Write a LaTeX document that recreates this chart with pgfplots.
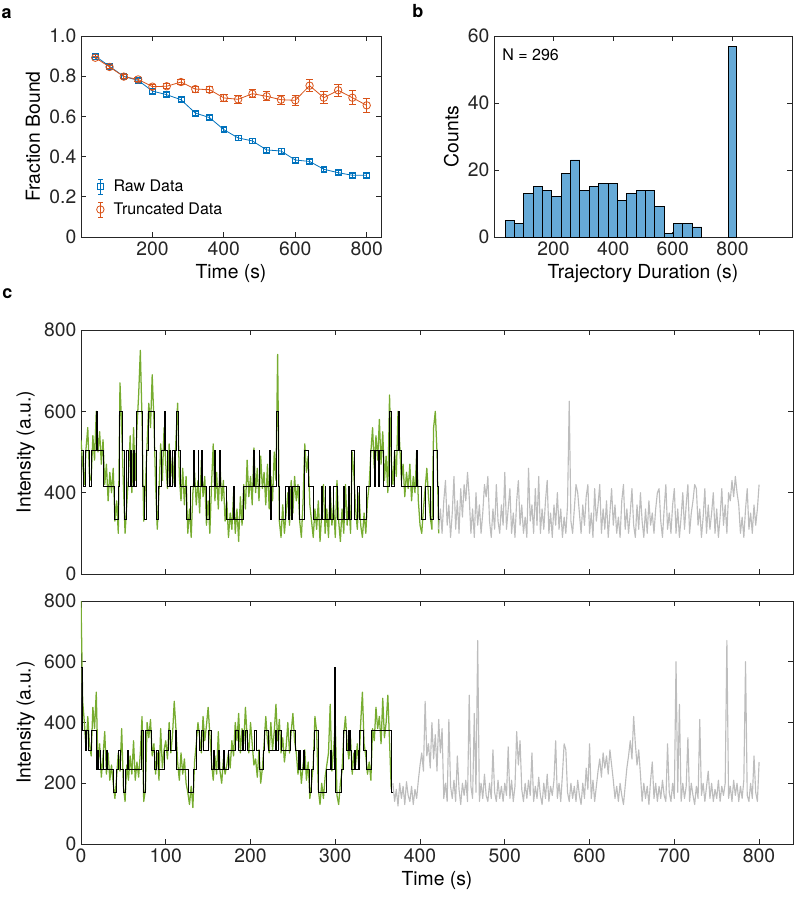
\documentclass[border=0pt]{standalone}
\usepackage{fontspec}
\setmainfont{TeX Gyre Heros}
\setsansfont{TeX Gyre Heros}
\usepackage{pgfplots}
\usepackage{pgfplotstable}
\pgfplotsset{compat=1.18}

\definecolor{mblue}{rgb}{0,0.447,0.741}
\definecolor{morange}{rgb}{0.85,0.325,0.098}
\definecolor{mgreen}{rgb}{0.466,0.674,0.188}
\definecolor{mgray}{rgb}{0.74,0.74,0.74}
\definecolor{hfill}{RGB}{102,170,215}
\definecolor{axc}{rgb}{0.15,0.15,0.15}

\pgfplotstableread[row sep=\\,header=false]{530\\ 470\\ 420\\ 510\\ 560\\ 440\\ 430\\ 540\\ 480\\ 600\\
500\\ 550\\ 470\\ 530\\ 420\\ 470\\ 380\\ 450\\ 400\\ 460\\
330\\ 380\\ 300\\ 670\\ 560\\ 420\\ 300\\ 370\\ 440\\ 540\\
400\\ 560\\ 430\\ 560\\ 640\\ 750\\ 580\\ 330\\ 420\\ 520\\
620\\ 560\\ 690\\ 580\\ 420\\ 310\\ 400\\ 520\\ 430\\ 560\\
470\\ 410\\ 520\\ 440\\ 490\\ 420\\ 530\\ 620\\ 440\\ 380\\
460\\ 370\\ 440\\ 300\\ 360\\ 290\\ 400\\ 450\\ 370\\ 430\\
350\\ 480\\ 390\\ 440\\ 320\\ 380\\ 300\\ 420\\ 520\\ 380\\
450\\ 360\\ 470\\ 380\\ 430\\ 330\\ 380\\ 290\\ 350\\ 310\\
400\\ 300\\ 360\\ 280\\ 390\\ 320\\ 420\\ 360\\ 480\\ 390\\
440\\ 370\\ 510\\ 400\\ 460\\ 380\\ 490\\ 410\\ 450\\ 370\\
470\\ 360\\ 440\\ 380\\ 500\\ 430\\ 740\\ 330\\ 290\\ 370\\
300\\ 350\\ 400\\ 320\\ 430\\ 350\\ 440\\ 380\\ 420\\ 330\\
290\\ 380\\ 520\\ 450\\ 490\\ 370\\ 330\\ 290\\ 360\\ 310\\
380\\ 280\\ 350\\ 420\\ 300\\ 360\\ 290\\ 410\\ 320\\ 370\\
290\\ 430\\ 330\\ 280\\ 360\\ 300\\ 420\\ 320\\ 380\\ 300\\
500\\ 440\\ 360\\ 310\\ 400\\ 320\\ 290\\ 350\\ 300\\ 380\\
420\\ 500\\ 560\\ 460\\ 540\\ 480\\ 580\\ 470\\ 550\\ 430\\
490\\ 400\\ 640\\ 480\\ 420\\ 500\\ 440\\ 600\\ 520\\ 430\\
470\\ 390\\ 450\\ 410\\ 470\\ 380\\ 440\\ 400\\ 500\\ 380\\
320\\ 300\\ 360\\ 410\\ 460\\ 390\\ 340\\ 310\\ 560\\ 600\\
500\\ 300\\}\topgreen

\pgfplotstableread[row sep=\\,header=false]{310\\ 360\\ 300\\ 380\\ 430\\ 320\\ 370\\ 290\\ 350\\ 440\\
310\\ 380\\ 300\\ 410\\ 340\\ 420\\ 380\\ 450\\ 390\\ 300\\
360\\ 290\\ 400\\ 320\\ 370\\ 300\\ 350\\ 420\\ 390\\ 440\\
330\\ 290\\ 360\\ 310\\ 420\\ 330\\ 300\\ 370\\ 320\\ 450\\
310\\ 360\\ 410\\ 300\\ 350\\ 290\\ 380\\ 430\\ 320\\ 370\\
300\\ 340\\ 290\\ 460\\ 330\\ 370\\ 300\\ 410\\ 320\\ 440\\
300\\ 360\\ 310\\ 380\\ 430\\ 300\\ 350\\ 290\\ 370\\ 320\\
400\\ 310\\ 360\\ 290\\ 340\\ 300\\ 370\\ 625\\ 330\\ 300\\
360\\ 420\\ 400\\ 350\\ 300\\ 370\\ 320\\ 390\\ 420\\ 300\\
350\\ 290\\ 410\\ 330\\ 370\\ 420\\ 300\\ 360\\ 310\\ 380\\
290\\ 350\\ 410\\ 320\\ 370\\ 300\\ 340\\ 290\\ 380\\ 420\\
310\\ 360\\ 300\\ 350\\ 410\\ 320\\ 290\\ 370\\ 310\\ 400\\
330\\ 290\\ 360\\ 300\\ 380\\ 320\\ 350\\ 300\\ 360\\ 400\\
410\\ 330\\ 290\\ 360\\ 420\\ 310\\ 350\\ 300\\ 370\\ 410\\
300\\ 360\\ 290\\ 340\\ 400\\ 310\\ 370\\ 420\\ 300\\ 350\\
380\\ 420\\ 410\\ 320\\ 360\\ 290\\ 340\\ 410\\ 300\\ 370\\
310\\ 350\\ 400\\ 300\\ 360\\ 290\\ 340\\ 410\\ 320\\ 370\\
300\\ 400\\ 380\\ 430\\ 390\\ 440\\ 400\\ 370\\ 300\\ 340\\
290\\ 360\\ 410\\ 310\\ 350\\ 300\\ 370\\ 320\\ 360\\ 420\\}\topgray

\pgfplotstableread[row sep=\\,header=false]{800\\ 470\\ 400\\ 310\\ 420\\ 330\\ 290\\ 450\\ 380\\ 500\\
260\\ 330\\ 220\\ 290\\ 370\\ 230\\ 300\\ 210\\ 260\\ 200\\
150\\ 220\\ 300\\ 240\\ 380\\ 190\\ 140\\ 260\\ 210\\ 290\\
230\\ 340\\ 210\\ 270\\ 220\\ 300\\ 420\\ 140\\ 180\\ 400\\
350\\ 410\\ 290\\ 330\\ 230\\ 300\\ 210\\ 380\\ 250\\ 310\\
340\\ 280\\ 400\\ 300\\ 360\\ 470\\ 380\\ 270\\ 210\\ 300\\
230\\ 280\\ 200\\ 170\\ 130\\ 190\\ 120\\ 270\\ 330\\ 400\\
350\\ 300\\ 420\\ 340\\ 390\\ 450\\ 360\\ 270\\ 210\\ 290\\
230\\ 370\\ 240\\ 200\\ 280\\ 230\\ 260\\ 300\\ 250\\ 340\\
290\\ 400\\ 340\\ 430\\ 300\\ 380\\ 330\\ 450\\ 350\\ 300\\
400\\ 330\\ 260\\ 280\\ 220\\ 310\\ 200\\ 250\\ 330\\ 420\\
340\\ 300\\ 400\\ 310\\ 370\\ 460\\ 340\\ 410\\ 300\\ 350\\
270\\ 320\\ 400\\ 300\\ 370\\ 430\\ 340\\ 300\\ 230\\ 280\\
200\\ 260\\ 310\\ 210\\ 270\\ 150\\ 200\\ 260\\ 420\\ 370\\
180\\ 130\\ 200\\ 150\\ 220\\ 260\\ 300\\ 460\\ 240\\ 310\\
400\\ 160\\ 130\\ 200\\ 240\\ 360\\ 420\\ 330\\ 280\\ 350\\
230\\ 300\\ 260\\ 330\\ 250\\ 400\\ 500\\ 330\\ 290\\ 230\\
270\\ 210\\ 380\\ 340\\ 450\\ 380\\ 420\\ 330\\ 480\\ 350\\
400\\ 490\\ 340\\ 180\\}\botgreen

\pgfplotstableread[row sep=\\,header=false]{200\\ 140\\ 180\\ 125\\ 200\\ 150\\ 190\\ 130\\ 205\\ 160\\
140\\ 190\\ 130\\ 180\\ 150\\ 210\\ 260\\ 300\\ 240\\ 470\\
290\\ 330\\ 250\\ 400\\ 280\\ 360\\ 240\\ 410\\ 300\\ 380\\
150\\ 200\\ 140\\ 410\\ 190\\ 150\\ 210\\ 140\\ 290\\ 180\\
130\\ 200\\ 160\\ 210\\ 140\\ 490\\ 190\\ 150\\ 430\\ 170\\
670\\ 140\\ 200\\ 150\\ 230\\ 160\\ 140\\ 200\\ 150\\ 310\\
170\\ 140\\ 210\\ 150\\ 190\\ 140\\ 200\\ 160\\ 320\\ 150\\
210\\ 140\\ 190\\ 370\\ 260\\ 340\\ 180\\ 140\\ 200\\ 150\\
210\\ 160\\ 300\\ 140\\ 190\\ 150\\ 220\\ 160\\ 130\\ 200\\
150\\ 230\\ 140\\ 190\\ 160\\ 210\\ 340\\ 150\\ 200\\ 140\\
230\\ 330\\ 310\\ 170\\ 140\\ 200\\ 150\\ 190\\ 140\\ 210\\
160\\ 130\\ 200\\ 150\\ 250\\ 180\\ 330\\ 150\\ 210\\ 140\\
190\\ 240\\ 280\\ 220\\ 300\\ 250\\ 290\\ 230\\ 310\\ 260\\
210\\ 150\\ 190\\ 140\\ 200\\ 160\\ 130\\ 190\\ 250\\ 290\\
340\\ 280\\ 420\\ 330\\ 260\\ 310\\ 230\\ 140\\ 200\\ 150\\
190\\ 130\\ 210\\ 270\\ 150\\ 200\\ 140\\ 190\\ 150\\ 210\\
160\\ 140\\ 330\\ 170\\ 140\\ 200\\ 150\\ 600\\ 170\\ 460\\
140\\ 200\\ 150\\ 190\\ 350\\ 140\\ 200\\ 160\\ 130\\ 190\\
150\\ 410\\ 160\\ 200\\ 140\\ 190\\ 240\\ 150\\ 200\\ 140\\
180\\ 150\\ 210\\ 140\\ 190\\ 160\\ 200\\ 670\\ 150\\ 190\\
140\\ 210\\ 160\\ 200\\ 140\\ 190\\ 150\\ 210\\ 600\\ 160\\
140\\ 200\\ 150\\ 290\\ 170\\ 140\\ 270\\}\botgray

\pgfplotsset{mat/.style={
  scale only axis,
  axis line style={axc, line width=0.6pt},
  every tick/.style={axc, line width=0.6pt},
  major tick length=4pt,
  tick align=inside,
  ticklabel style={font=\fontsize{14.5}{17}\selectfont, text=axc},
  label style={font=\fontsize{14.5}{17}\selectfont},
  /pgf/number format/assume math mode=true,
  /pgf/number format/1000 sep={},
}}

\begin{document}
\begin{tikzpicture}
\path[use as bounding box] (0,0) rectangle (595.5pt,-675.75pt);

\node[anchor=base west, inner sep=0, font=\fontsize{13.5}{16}\selectfont\bfseries] at (1.1pt,-13.7pt) {a};
\node[anchor=base west, inner sep=0, font=\fontsize{13.5}{16}\selectfont\bfseries] at (309pt,-13.1pt) {b};
\node[anchor=base west, inner sep=0, font=\fontsize{13.5}{16}\selectfont\bfseries] at (1.5pt,-223.9pt) {c};

% ---------- panel a ----------
\begin{axis}[mat, at={(60.75pt,-177.75pt)}, anchor=south west,
  width=225pt, height=150.75pt,
  xmin=0, xmax=840, ymin=0, ymax=1,
  xtick={200,400,600,800},
  ytick={0,0.2,0.4,0.6,0.8,1}, yticklabels={0,0.2,0.4,0.6,0.8,1.0},
  xlabel={Time (s)}, ylabel={Fraction Bound},
  legend style={at={(0.03,0.075)}, anchor=south west, draw=none, fill=none,
    font=\fontsize{12}{14}\selectfont, row sep=3pt},
  legend cell align=left,
  legend image code/.code={
    \path (0cm,0cm) (0.42cm,0cm);
    \draw[#1,mark=none] (0.15cm,-0.2cm)--(0.15cm,0.2cm) (0.09cm,-0.2cm)--(0.21cm,-0.2cm) (0.09cm,0.2cm)--(0.21cm,0.2cm);
    \draw[#1,only marks] plot coordinates {(0.15cm,0cm)};
  },
]
\addplot[mblue, line width=0.6pt, mark=square, mark size=2.2pt, mark options={solid},
  error bars/.cd, y dir=both, y explicit,
  error bar style={line width=0.6pt, mblue},
  error mark options={rotate=90, mark size=2.5pt, line width=0.6pt, mblue}]
coordinates {
(40,0.900) +- (0,0.008) (80,0.849) +- (0,0.009) (120,0.799) +- (0,0.009)
(160,0.779) +- (0,0.010) (200,0.726) +- (0,0.010) (240,0.708) +- (0,0.010)
(280,0.683) +- (0,0.010) (320,0.617) +- (0,0.010) (360,0.594) +- (0,0.011)
(400,0.534) +- (0,0.011) (440,0.493) +- (0,0.011) (480,0.478) +- (0,0.011)
(520,0.433) +- (0,0.011) (560,0.428) +- (0,0.011) (600,0.383) +- (0,0.011)
(640,0.376) +- (0,0.011) (680,0.337) +- (0,0.011) (720,0.320) +- (0,0.010)
(760,0.307) +- (0,0.010) (800,0.307) +- (0,0.010)
};
\addlegendentry{Raw Data}
\addplot[morange, line width=0.6pt, mark=o, mark size=2.8pt, mark options={solid},
  error bars/.cd, y dir=both, y explicit,
  error bar style={line width=0.6pt, morange},
  error mark options={rotate=90, mark size=2.8pt, line width=0.6pt, morange}]
coordinates {
(40,0.892) +- (0,0.006) (80,0.846) +- (0,0.008) (120,0.798) +- (0,0.009)
(160,0.784) +- (0,0.010) (200,0.748) +- (0,0.012) (240,0.750) +- (0,0.013)
(280,0.771) +- (0,0.014) (320,0.736) +- (0,0.015) (360,0.733) +- (0,0.016)
(400,0.692) +- (0,0.017) (440,0.685) +- (0,0.019) (480,0.713) +- (0,0.020)
(520,0.700) +- (0,0.022) (560,0.683) +- (0,0.024) (600,0.680) +- (0,0.026)
(640,0.753) +- (0,0.030) (680,0.693) +- (0,0.030) (720,0.730) +- (0,0.030)
(760,0.693) +- (0,0.034) (800,0.655) +- (0,0.037)
};
\addlegendentry{Truncated Data}
\end{axis}

% ---------- panel b ----------
\begin{axis}[mat, at={(370.5pt,-177.75pt)}, anchor=south west,
  width=223.5pt, height=150.75pt,
  xmin=0, xmax=1000, ymin=0, ymax=60,
  xtick={200,400,600,800}, ytick={0,20,40,60},
  xlabel={Trajectory Duration (s)}, ylabel={Counts},
]
\addplot[ybar interval, fill=hfill, draw=black, line width=0.6pt] coordinates {
(37,5)(68.4,4)(99.8,13)(131.2,15)(162.6,14)(194,12)(225.4,19)(256.8,23)
(288.2,14)(319.6,15)(351,16)(382.4,16)(413.8,11)(445.2,13)(476.6,14)
(508,14)(539.4,9)(570.8,1)(602.2,4)(633.6,4)(665,3)(696.4,0)
};
\addplot[ybar interval, fill=hfill, draw=black, line width=0.6pt] coordinates {
(785,57)(815,57)
};
\node[anchor=north west, inner sep=0, font=\fontsize{12}{14}\selectfont] at (rel axis cs:0.027,0.94) {N = 296};
\end{axis}

% ---------- panel c top ----------
\begin{axis}[mat, at={(60.75pt,-430.5pt)}, anchor=south west,
  width=534pt, height=183pt,
  xmin=0, xmax=840, ymin=200, ymax=800,
  xtick={0,100,...,800}, xticklabels={},
  ytick={200,400,600,800}, yticklabels={0,400,600,800},
  ylabel={Intensity (a.u.)},
]
\addplot[mgreen, line width=0.95pt, line join=round] table[x expr=\coordindex*2, y index=0] {\topgreen};
\addplot[mgray, line width=0.85pt, line join=round] table[x expr=\coordindex*2+422, y index=0] {\topgray};
\addplot[black, line width=0.7pt, const plot] coordinates {
(0,503)(3,416)(5.5,503)(10,416)(12,503)(18,600)(19.5,503)(27,416)(39,333)(44,416)
(45,600)(49,503)(51,333)(54,503)(56,416)(58,503)(60,416)(62,503)(63,416)(66,600)
(73,416)(75,333)(77.5,503)(80,600)(87,503)(89,333)(91,416)(95,503)(99,600)(100,503)
(102,416)(104,503)(106,416)(108,503)(110,416)(112,503)(113,600)(114.5,503)(117,416)(125,333)
(129,416)(133,503)(134,416)(138,503)(139,416)(142,503)(143,416)(148,333)(152,416)(158,503)
(159,416)(163,503)(164,416)(172,333)(180,416)(181,333)(192,416)(204,503)(205,416)(210,503)
(211,416)(222,503)(223,333)(225,416)(231,600)(232.5,416)(234,333)(241,416)(245,333)(246,416)
(248,333)(250,416)(258,333)(264,503)(268,416)(274,333)(284,416)(285,333)(288,416)(289,333)
(293,416)(294,333)(298,416)(302,333)(310,416)(311,333)(316,416)(317,333)(319,503)(323,333)
(326,416)(328,333)(337,416)(341,503)(346,416)(347,503)(351,416)(352,503)(357,416)(364,600)
(366,416)(370,503)(374,600)(376,503)(378,416)(396,503)(397,416)(402,333)(406,416)(412,333)
(416,503)(420.5,416)(422,333)(423,333)
};
\end{axis}

% ---------- panel c bottom ----------
\begin{axis}[mat, at={(60.75pt,-633pt)}, anchor=south west,
  width=534pt, height=182.25pt,
  xmin=0, xmax=840, ymin=0, ymax=800,
  xtick={0,100,...,800}, ytick={0,200,...,800},
  xlabel={Time (s)}, ylabel={Intensity (a.u.)},
]
\addplot[mgreen, line width=0.95pt, line join=round] table[x expr=\coordindex*2, y index=0] {\botgreen};
\addplot[mgray, line width=0.85pt, line join=round] table[x expr=\coordindex*2+368, y index=0] {\botgray};
\addplot[black, line width=0.7pt, const plot] coordinates {
(0,580)(1.6,373)(4.7,307)(6.7,373)(8.7,307)(11.8,373)(18.5,244)(20,307)(21,244)(22.5,307)
(23.5,244)(26,307)(27,244)(30,307)(31,244)(38,171)(42,244)(44,307)(46,244)(50,171)
(52,244)(55,307)(56,244)(71.6,373)(73.6,171)(76.3,373)(83.4,307)(87,244)(89,307)(91,244)
(99,307)(103,373)(105,307)(111,373)(113,244)(126.6,171)(132.5,244)(136,373)(140,307)(142,373)
(145,307)(150,373)(154,244)(156,307)(157,244)(162,307)(163,244)(168,307)(169,244)(174,307)
(182,373)(186,307)(190,373)(192,307)(194,373)(196,307)(205,373)(207,307)(211,244)(215,307)
(217,373)(221,307)(229,373)(231,307)(233,373)(237,307)(247,373)(253,307)(256.5,244)(258,307)
(259,244)(263,307)(264,244)(270,171)(272,244)(274,307)(276,373)(280,171)(290,244)(294,307)
(295,244)(299,580)(300,171)(307.5,244)(309.5,373)(313.5,307)(315,373)(316,307)(317,373)(318,307)
(319.4,244)(323,307)(324,244)(327,307)(328,244)(329,373)(333,307)(337,244)(343,373)(366.6,171)
(367,171)
};
\end{axis}
\end{tikzpicture}
\end{document}
